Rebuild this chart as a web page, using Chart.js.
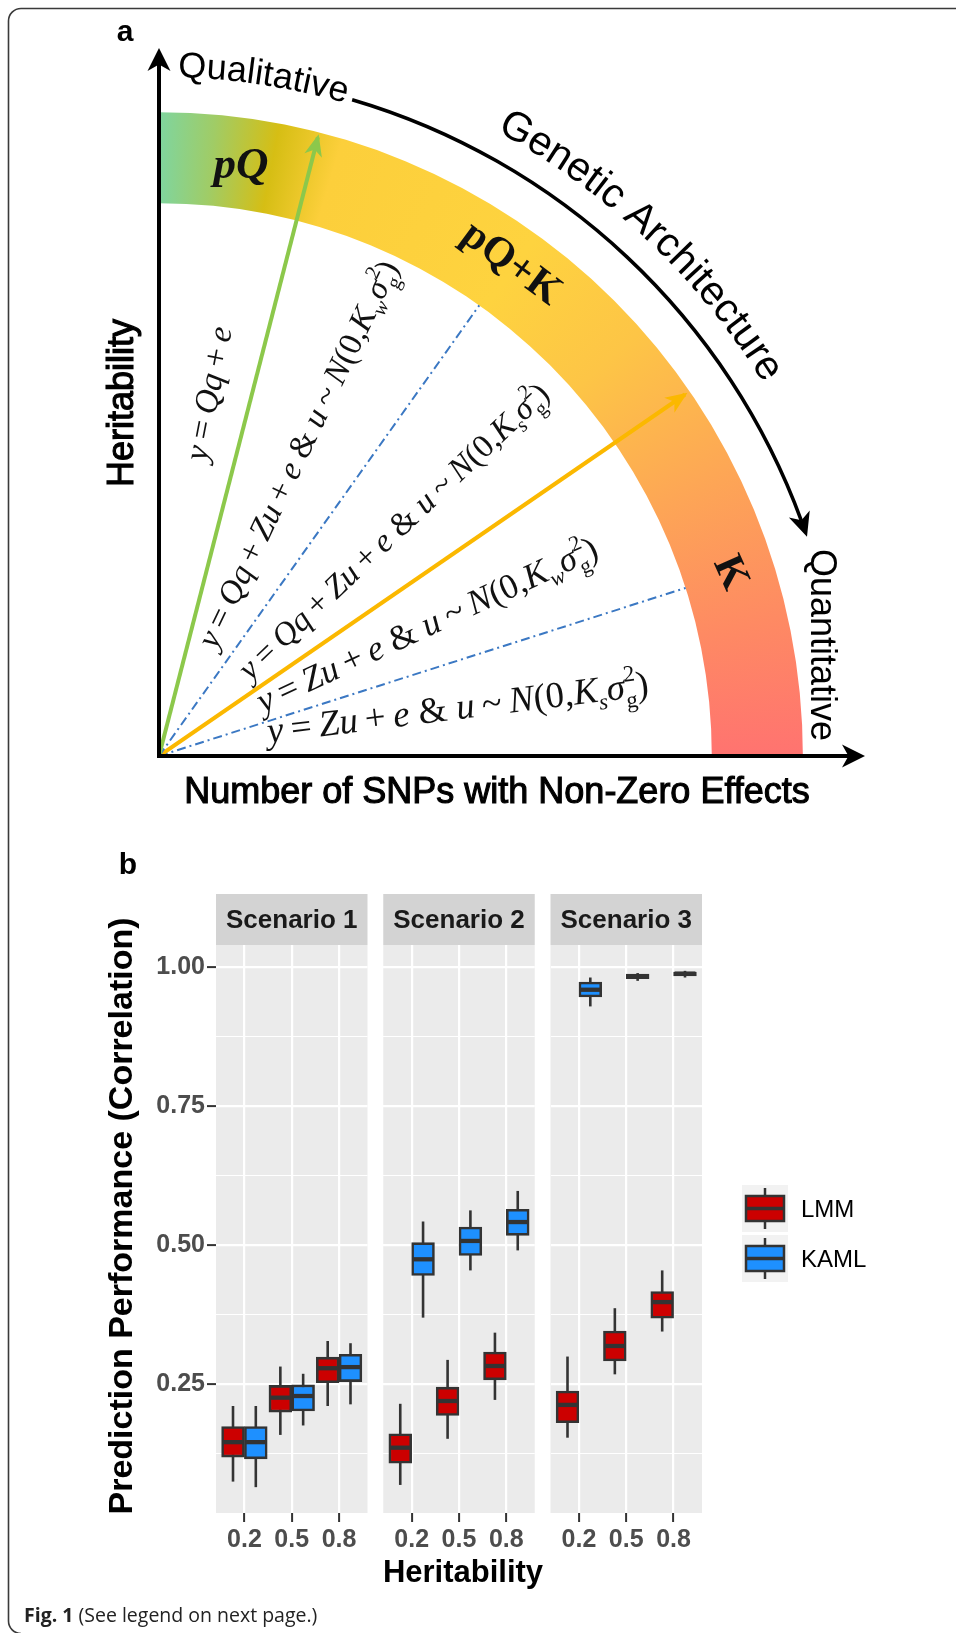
<!DOCTYPE html>
<html>
<head>
<meta charset="utf-8">
<script src="https://cdn.jsdelivr.net/npm/chart.js@4.4.1/dist/chart.umd.min.js"></script>
<style>
    html, body { margin: 0; padding: 0; background: #fff; }
    #page { position: relative; width: 956px; height: 1633px; overflow: hidden; background: #fff; }
    #page canvas { position: absolute; left: 0; top: 0; }
</style>
</head>
<body>
<div id="page">
    <canvas id="diagram" width="956" height="1633"></canvas>
    <canvas id="facet1" width="956" height="1633"></canvas>
    <canvas id="facet2" width="956" height="1633"></canvas>
    <canvas id="facet3" width="956" height="1633"></canvas>
</div>
<script>
// ---- panel b data: [lower whisker, Q1, median, Q3, upper whisker] at h2 = 0.2, 0.5, 0.8
const heritLabels = ['0.2', '0.5', '0.8'];
const scenarioNames = ['Scenario 1', 'Scenario 2', 'Scenario 3'];
const methodNames = ['LMM', 'KAML'];
const yMajorTicks = [0.25, 0.50, 0.75, 1.00];
const yMinorTicks = [0.125, 0.375, 0.625, 0.875];
const yRange = [0.0185, 1.0405];

const lmmS1  = [[0.075, 0.119, 0.146, 0.174, 0.211], [0.159, 0.200, 0.226, 0.248, 0.282], [0.211, 0.253, 0.279, 0.299, 0.328]];
const kamlS1 = [[0.065, 0.116, 0.146, 0.174, 0.211], [0.176, 0.202, 0.229, 0.249, 0.269], [0.214, 0.255, 0.281, 0.304, 0.324]];
const lmmS2  = [[0.069, 0.108, 0.136, 0.161, 0.215], [0.152, 0.194, 0.220, 0.245, 0.294], [0.222, 0.258, 0.283, 0.308, 0.343]];
const kamlS2 = [[0.370, 0.446, 0.475, 0.505, 0.543], [0.455, 0.482, 0.508, 0.533, 0.563], [0.491, 0.518, 0.542, 0.565, 0.598]];
const lmmS3  = [[0.154, 0.181, 0.213, 0.238, 0.300], [0.268, 0.292, 0.319, 0.346, 0.387], [0.345, 0.369, 0.398, 0.417, 0.455]];
const kamlS3 = [[0.930, 0.947, 0.960, 0.974, 0.982], [0.976, 0.980, 0.984, 0.988, 0.990], [0.982, 0.985, 0.989, 0.992, 0.994]];

// ---- panel a (concept diagram): rays from the origin, angle in degrees above the SNP axis
const rayAngles = [75.6, 54.6, 34.5, 17.7];
const rayReach  = [0.905, 0.783, 0.904, 0.783];   // fraction of axis length
const bandRadii = [0.783, 0.912];
const bandLabels = ['pQ', 'pQ+K', 'K'];
const archLabels = ['Qualitative', 'Genetic Architecture', 'Quantitative'];

const TS = '\u2009';
const tailW = [[' & ', 'r'], ['u', 'i'], [TS + '~' + TS, 'r'], ['N', 'i'], ['(0,', 'r'], ['K', 'i'], ['w', 'sub'], ['σ', 'i'], ['2g', 'ss'], [')', 'r']];
const tailS = [[' & ', 'r'], ['u', 'i'], [TS + '~' + TS, 'r'], ['N', 'i'], ['(0,', 'r'], ['K', 'i'], ['s', 'sub'], ['σ', 'i'], ['2g', 'ss'], [')', 'r']];
const fQ   = [['y', 'i'], [TS + '=' + TS, 'r'], ['Qq', 'i'], [TS + '+' + TS, 'r'], ['e', 'i']];
const fQZ  = [['y', 'i'], [TS + '=' + TS, 'r'], ['Qq', 'i'], [TS + '+' + TS, 'r'], ['Zu', 'i'], [TS + '+' + TS, 'r'], ['e', 'i']];
const fZ   = [['y', 'i'], [TS + '=' + TS, 'r'], ['Zu', 'i'], [TS + '+' + TS, 'r'], ['e', 'i']];

const SANS = '"Liberation Sans", Arial, sans-serif';
const SERIF = '"Liberation Serif", "Times New Roman", serif';

// ---------- helpers ----------
function arrowHead(ctx, x, y, dir, len, half, color) {
    const c = Math.cos(dir), s = Math.sin(dir);
    ctx.save();
    ctx.fillStyle = color;
    ctx.beginPath();
    ctx.moveTo(x, y);
    ctx.lineTo(x - len * c - half * s, y - len * s + half * c);
    ctx.lineTo(x - 0.72 * len * c, y - 0.72 * len * s);
    ctx.lineTo(x - len * c + half * s, y - len * s - half * c);
    ctx.closePath();
    ctx.fill();
    ctx.restore();
}

function arcText(ctx, str, cx, cy, r, startDeg, font) {
    ctx.save();
    ctx.font = font;
    ctx.fillStyle = '#000';
    ctx.textAlign = 'left';
    ctx.textBaseline = 'alphabetic';
    let phi = -startDeg * Math.PI / 180;
    for (const ch of str) {
        const w = ctx.measureText(ch).width;
        ctx.save();
        ctx.translate(cx + r * Math.cos(phi), cy + r * Math.sin(phi));
        ctx.rotate(phi + Math.PI / 2);
        ctx.fillText(ch, 0, 0);
        ctx.restore();
        phi += w / r;
    }
    ctx.restore();
}

function fontFor(kind, fs) {
    if (kind === 'r') return `${fs}px ${SERIF}`;
    if (kind === 'i') return `italic ${fs}px ${SERIF}`;
    if (kind === 'sub') return `italic ${fs * 0.62}px ${SERIF}`;
    return `${fs * 0.62}px ${SERIF}`;
}

function partWidth(ctx, p, fs) {
    ctx.font = fontFor(p[1], fs);
    if (p[1] === 'ss') return Math.max(ctx.measureText(p[0][0]).width, ctx.measureText(p[0][1]).width);
    return ctx.measureText(p[0]).width;
}

function drawFormula(ctx, parts, cx, cy, deg, len) {
    let w = 0;
    parts.forEach(p => { w += partWidth(ctx, p, 30); });
    const fs = 30 * len / w;
    ctx.save();
    ctx.translate(cx, cy);
    ctx.rotate(-deg * Math.PI / 180);
    ctx.fillStyle = '#111';
    ctx.textAlign = 'left';
    ctx.textBaseline = 'alphabetic';
    let x = -len / 2;
    const y0 = fs * 0.25;
    parts.forEach(p => {
        const pw = partWidth(ctx, p, fs);
        if (p[1] === 'ss') {
            ctx.fillText(p[0][0], x, y0 - fs * 0.45);
            ctx.fillText(p[0][1], x, y0 + fs * 0.26);
        } else if (p[1] === 'sub') {
            ctx.fillText(p[0], x, y0 + fs * 0.22);
        } else {
            ctx.fillText(p[0], x, y0);
        }
        x += pw;
    });
    ctx.restore();
}

function label(ctx, text, x, y, font, deg, color, stroke) {
    ctx.save();
    ctx.translate(x, y);
    ctx.rotate((deg || 0) * Math.PI / 180);
    ctx.font = font;
    ctx.fillStyle = color || '#000';
    ctx.textAlign = 'center';
    ctx.textBaseline = 'middle';
    ctx.fillText(text, 0, 0);
    if (stroke) {
        ctx.strokeStyle = color || '#000';
        ctx.lineWidth = stroke;
        ctx.strokeText(text, 0, 0);
    }
    ctx.restore();
}

// ---------- panel a ----------
const rayLook = [
    { color: '#8cc84b', width: 4, dash: [], arrow: true },
    { color: '#3b78c3', width: 2, dash: [9, 4, 2, 4], arrow: false },
    { color: '#fbb800', width: 4, dash: [], arrow: true },
    { color: '#3b78c3', width: 2, dash: [9, 4, 2, 4], arrow: false }
];

const diagramPlugin = {
    id: 'diagram',
    beforeDatasetsDraw(chart) {
        const ctx = chart.ctx, xs = chart.scales.x, ys = chart.scales.y;
        const ox = xs.getPixelForValue(0), oy = ys.getPixelForValue(0);
        const unit = xs.getPixelForValue(1) - ox;
        const rIn = bandRadii[0] * unit, rOut = bandRadii[1] * unit;
        const g = ctx.createConicGradient(-Math.PI / 2, ox, oy);
        [[0, '#7fd59f'], [0.014, '#a0cc66'], [0.03, '#d6be14'], [0.046, '#fccf3b'], [0.10, '#fed33f'],
         [0.135, '#fdc546'], [0.175, '#fda755'], [0.215, '#fe8a63'], [0.25, '#ff7370'], [0.26, '#ff7370'], [1, '#7fd59f']]
            .forEach(s => g.addColorStop(s[0], s[1]));
        ctx.save();
        ctx.fillStyle = g;
        ctx.beginPath();
        ctx.arc(ox, oy, rOut, -Math.PI / 2, 0);
        ctx.arc(ox, oy, rIn, 0, -Math.PI / 2, true);
        ctx.closePath();
        ctx.fill();
        ctx.restore();
    },
    afterDatasetsDraw(chart) {
        const ctx = chart.ctx, a = chart.chartArea, xs = chart.scales.x, ys = chart.scales.y;
        const ox = xs.getPixelForValue(0), oy = ys.getPixelForValue(0);
        chart.data.datasets.forEach((ds, i) => {
            if (!rayLook[i].arrow) return;
            const pts = chart.getDatasetMeta(i).data;
            const dir = Math.atan2(pts[1].y - pts[0].y, pts[1].x - pts[0].x);
            arrowHead(ctx, pts[1].x + 3 * Math.cos(dir), pts[1].y + 3 * Math.sin(dir), dir, 22, 9, ds.borderColor);
        });
        // axes
        ctx.save();
        ctx.strokeStyle = '#000';
        ctx.lineWidth = 4;
        ctx.lineCap = 'square';
        ctx.beginPath();
        ctx.moveTo(ox, a.top + 14);
        ctx.lineTo(ox, oy);
        ctx.lineTo(a.right - 14, oy);
        ctx.stroke();
        ctx.restore();
        arrowHead(ctx, ox, a.top, -Math.PI / 2, 23, 11.5, '#000');
        arrowHead(ctx, a.right, oy, 0, 23, 11.5, '#000');
        // genetic architecture arc
        const unit = xs.getPixelForValue(1) - ox;
        const R = 0.969 * unit;
        const endDeg = 18.7, headLen = 24;
        const endRad = endDeg * Math.PI / 180;
        ctx.save();
        ctx.strokeStyle = '#000';
        ctx.lineWidth = 3.5;
        ctx.beginPath();
        ctx.arc(ox, oy, R, -73.6 * Math.PI / 180, -(endRad + 0.7 * headLen / R));
        ctx.stroke();
        ctx.restore();
        const tx = ox + R * Math.cos(endRad), ty = oy - R * Math.sin(endRad);
        arrowHead(ctx, tx, ty, Math.atan2(Math.cos(endRad), Math.sin(endRad)), headLen, 11, '#000');
    },
    afterDraw(chart) {
        const ctx = chart.ctx, xs = chart.scales.x, ys = chart.scales.y;
        const ox = xs.getPixelForValue(0), oy = ys.getPixelForValue(0);
        // page frame
        ctx.save();
        ctx.strokeStyle = '#3a3a3a';
        ctx.lineWidth = 1.6;
        ctx.beginPath();
        ctx.moveTo(970, 8.5);
        ctx.lineTo(21, 8.5);
        ctx.arcTo(8.5, 8.5, 8.5, 21, 12.5);
        ctx.lineTo(8.5, 1621);
        ctx.arcTo(8.5, 1633.5, 21, 1633.5, 12.5);
        ctx.stroke();
        ctx.restore();

        label(ctx, 'a', 125, 33, `bold 30px ${SANS}`);
        arcText(ctx, archLabels[0], ox, oy, 679, 88.4, `36px ${SANS}`);
        arcText(ctx, archLabels[1], ox, oy, 710, 61.6, `41px ${SANS}`);
        label(ctx, archLabels[2], 821, 645, `36px ${SANS}`, 90);
        label(ctx, 'Heritability', 123, 403, `36px ${SANS}`, -90, '#000', 1.1);
        label(ctx, 'Number of SNPs with Non-Zero Effects', 497, 793, `36px ${SANS}`, 0, '#000', 1.1);

        label(ctx, bandLabels[0], 241, 166, `italic bold 45px ${SERIF}`, 0, '#111');
        label(ctx, bandLabels[1], 511, 264, `bold 42px ${SERIF}`, 36.6, '#111');
        label(ctx, bandLabels[2], 730, 573, `bold 42px ${SERIF}`, 66, '#111');

        drawFormula(ctx, fQ, 211, 394, 79, 136);
        drawFormula(ctx, fQZ.concat(tailW), 300, 455, 64.4, 425);
        drawFormula(ctx, fQZ.concat(tailS), 395, 533, 43.5, 415);
        drawFormula(ctx, fZ.concat(tailW), 428, 627, 24.9, 372);
        drawFormula(ctx, fZ.concat(tailS), 458, 710, 7.1, 384);

        // caption
        ctx.save();
        ctx.fillStyle = '#222';
        ctx.textBaseline = 'alphabetic';
        ctx.font = `bold 19.5px "Open Sans", ${SANS}`;
        ctx.fillText('Fig. 1', 24, 1622);
        const w = ctx.measureText('Fig. 1').width;
        ctx.font = `19.5px "Open Sans", ${SANS}`;
        ctx.fillText(' (See legend on next page.)', 24 + w, 1622);
        ctx.restore();
    }
};

new Chart(document.getElementById('diagram'), {
    type: 'scatter',
    data: {
        datasets: rayAngles.map((deg, i) => {
            const t = deg * Math.PI / 180;
            return {
                data: [{ x: 0, y: 0 }, { x: rayReach[i] * Math.cos(t), y: rayReach[i] * Math.sin(t) }],
                showLine: true,
                borderColor: rayLook[i].color,
                borderWidth: rayLook[i].width,
                borderDash: rayLook[i].dash,
                pointRadius: 0,
                fill: false
            };
        })
    },
    options: {
        responsive: false,
        animation: false,
        events: [],
        layout: { padding: { left: 159, top: 48, right: 956 - 865, bottom: 1633 - 756 } },
        plugins: { legend: { display: false }, tooltip: { enabled: false } },
        scales: {
            x: { type: 'linear', display: false, min: 0, max: 1 },
            y: { type: 'linear', display: false, min: 0, max: (756 - 48) / (865 - 159) }
        }
    },
    plugins: [diagramPlugin]
});

// ---------- panel b ----------
const panelLeft = [216, 383.25, 550.5];
const panelW = 151.5, panelTop = 945, panelBottom = 1513, stripTop = 894;
const yAxisW = 75;
const boxColors = { LMM: '#cc0000', KAML: '#1e90ff' };
const isMajor = v => Math.abs(v * 4 - Math.round(v * 4)) < 1e-6;

const boxParts = {
    id: 'boxParts',
    beforeDatasetsDraw(chart) {
        const ctx = chart.ctx, y = chart.scales.y;
        ctx.save();
        ctx.strokeStyle = '#333';
        ctx.lineWidth = 2.6;
        chart.data.datasets.forEach((ds, di) => {
            chart.getDatasetMeta(di).data.forEach((bar, i) => {
                const s = ds.stats[i];
                ctx.beginPath();
                ctx.moveTo(bar.x, y.getPixelForValue(s[0]));
                ctx.lineTo(bar.x, y.getPixelForValue(s[4]));
                ctx.stroke();
            });
        });
        ctx.restore();
    },
    afterDatasetsDraw(chart) {
        const ctx = chart.ctx, y = chart.scales.y;
        ctx.save();
        ctx.strokeStyle = '#333';
        ctx.lineWidth = 4.3;
        chart.data.datasets.forEach((ds, di) => {
            chart.getDatasetMeta(di).data.forEach((bar, i) => {
                const py = y.getPixelForValue(ds.stats[i][2]);
                ctx.beginPath();
                ctx.moveTo(bar.x - bar.width / 2 + 1, py);
                ctx.lineTo(bar.x + bar.width / 2 - 1, py);
                ctx.stroke();
            });
        });
        ctx.restore();
    }
};

function facetDecor(title) {
    return {
        id: 'facetDecor',
        beforeDraw(chart) {
            const ctx = chart.ctx, a = chart.chartArea;
            ctx.save();
            ctx.fillStyle = '#ebebeb';
            ctx.fillRect(a.left, a.top, a.right - a.left, a.bottom - a.top);
            ctx.fillStyle = '#d3d3d3';
            ctx.fillRect(a.left, stripTop, a.right - a.left, a.top - stripTop);
            ctx.restore();
            label(ctx, title, (a.left + a.right) / 2, (stripTop + a.top) / 2 + 1, `bold 26px ${SANS}`, 0, '#1a1a1a');
        }
    };
}

function legendKey(ctx, x, y, fill) {
    ctx.save();
    ctx.fillStyle = '#f2f2f2';
    ctx.fillRect(x, y, 46, 47);
    ctx.strokeStyle = '#333';
    ctx.lineWidth = 2.5;
    ctx.beginPath();
    ctx.moveTo(x + 23, y + 3);
    ctx.lineTo(x + 23, y + 44);
    ctx.stroke();
    ctx.fillStyle = fill;
    ctx.fillRect(x + 4, y + 11, 38, 25);
    ctx.strokeRect(x + 4, y + 11, 38, 25);
    ctx.lineWidth = 3.5;
    ctx.beginPath();
    ctx.moveTo(x + 4, y + 23.5);
    ctx.lineTo(x + 42, y + 23.5);
    ctx.stroke();
    ctx.restore();
}

const panelBText = {
    id: 'panelBText',
    afterDraw(chart) {
        const ctx = chart.ctx;
        label(ctx, 'b', 128, 866, `bold 30px ${SANS}`);
        label(ctx, 'Prediction Performance (Correlation)', 123, 1216, `bold 34px ${SANS}`, -90);
        label(ctx, 'Heritability', 463, 1573, `bold 31px ${SANS}`);
        methodNames.forEach((m, i) => {
            const ky = 1185 + i * 50;
            legendKey(ctx, 742, ky, boxColors[m]);
            ctx.save();
            ctx.font = `24px ${SANS}`;
            ctx.fillStyle = '#000';
            ctx.textBaseline = 'middle';
            ctx.fillText(m, 801, ky + 25);
            ctx.restore();
        });
    }
};

function makeFacet(id, idx, lmm, kaml) {
    const first = idx === 0;
    const left = panelLeft[idx];
    const boxPx = panelW / 3.2 * 0.45 + 1.5;
    const series = { LMM: lmm, KAML: kaml };
    const plugins = [facetDecor(scenarioNames[idx]), boxParts];
    if (first) plugins.push(panelBText);
    return new Chart(document.getElementById(id), {
        type: 'bar',
        data: {
            datasets: methodNames.map(m => ({
                label: m,
                stats: series[m],
                data: series[m].map((b, i) => ({ x: i + 1, y: [b[1], b[3]] })),
                backgroundColor: boxColors[m],
                borderColor: '#333',
                borderWidth: 2.6,
                borderSkipped: false,
                barThickness: boxPx
            }))
        },
        options: {
            responsive: false,
            animation: false,
            events: [],
            layout: { padding: { left: first ? left - yAxisW : left, right: 956 - left - panelW, top: panelTop, bottom: 0 } },
            plugins: { legend: { display: false }, tooltip: { enabled: false } },
            scales: {
                x: {
                    type: 'linear', min: 0.4, max: 3.6, offset: false,
                    afterBuildTicks: s => { s.ticks = heritLabels.map((_, i) => ({ value: i + 1 })); },
                    afterFit: s => { s.height = 1633 - panelBottom; },
                    ticks: {
                        autoSkip: false, maxRotation: 0, padding: 3,
                        color: '#4d4d4d', font: { family: SANS, size: 25, weight: 'bold' },
                        callback: v => heritLabels[Math.round(v) - 1]
                    },
                    grid: { offset: false, color: '#ffffff', lineWidth: 2.2, tickLength: 9, tickColor: '#333', tickWidth: 2 },
                    border: { display: false }
                },
                y: {
                    type: 'linear', min: yRange[0], max: yRange[1],
                    afterBuildTicks: s => {
                        s.ticks = yMinorTicks.concat(yMajorTicks).sort((p, q) => p - q).map(v => ({ value: v }));
                    },
                    afterFit: s => { s.width = first ? yAxisW : 0; },
                    ticks: {
                        display: first, autoSkip: false, padding: 2,
                        color: '#4d4d4d', font: { family: SANS, size: 25, weight: 'bold' },
                        callback: v => isMajor(v) ? v.toFixed(2) : ''
                    },
                    grid: {
                        color: '#ffffff',
                        lineWidth: c => isMajor(c.tick.value) ? 2.2 : 1.1,
                        drawTicks: first, tickLength: 9, tickWidth: 2,
                        tickColor: c => isMajor(c.tick.value) ? '#333' : 'rgba(0,0,0,0)'
                    },
                    border: { display: false }
                }
            }
        },
        plugins: plugins
    });
}

makeFacet('facet1', 0, lmmS1, kamlS1);
makeFacet('facet2', 1, lmmS2, kamlS2);
makeFacet('facet3', 2, lmmS3, kamlS3);
</script>
</body>
</html>
